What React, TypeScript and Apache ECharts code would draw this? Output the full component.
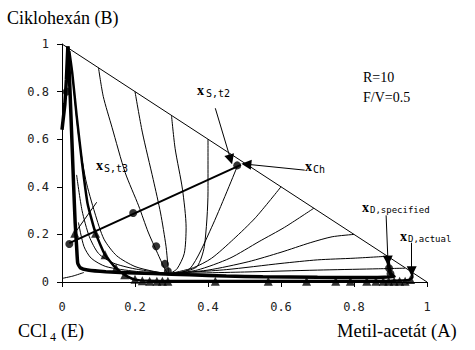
import React, { useEffect, useRef } from "react";
import * as echarts from "echarts";

// axis ticks
const xTickLabels = ["0", "0.2", "0.4", "0.6", "0.8", "1"];
const yTickLabels = ["0", "0.2", "0.4", "0.6", "0.8", "1"];

// triangle side (A-B edge)
const hypotenuse = [[0, 1], [1, 0]];

// thin residue curves from the A-B edge down to the saddle
const curveB1 = [[0.10, 0.90], [0.113, 0.78], [0.137, 0.65], [0.173, 0.46], [0.21, 0.32], [0.236, 0.21], [0.262, 0.12], [0.28, 0.06], [0.29, 0.035]];
const curveB2 = [[0.20, 0.80], [0.22, 0.63], [0.25, 0.43], [0.27, 0.29], [0.285, 0.15], [0.29, 0.07], [0.292, 0.035]];
const curveB3 = [[0.30, 0.70], [0.31, 0.56], [0.33, 0.39], [0.34, 0.23], [0.335, 0.12], [0.315, 0.055], [0.295, 0.035]];
const curveB4 = [[0.40, 0.60], [0.40, 0.38], [0.39, 0.15], [0.37, 0.065], [0.33, 0.042], [0.295, 0.035]];

// thin curves radiating from the saddle to the A-B edge
const curveR1 = [[0.295, 0.035], [0.35, 0.055], [0.41, 0.23], [0.48, 0.485]];
const curveR2 = [[0.295, 0.035], [0.36, 0.06], [0.41, 0.10], [0.47, 0.18], [0.53, 0.27], [0.60, 0.40]];
const curveR3 = [[0.295, 0.035], [0.37, 0.05], [0.46, 0.10], [0.54, 0.17], [0.61, 0.23], [0.69, 0.31]];
const curveR4 = [[0.295, 0.035], [0.40, 0.05], [0.51, 0.085], [0.60, 0.125], [0.68, 0.165], [0.74, 0.19], [0.80, 0.20]];
const curveR5 = [[0.295, 0.035], [0.45, 0.052], [0.60, 0.078], [0.70, 0.093], [0.80, 0.10], [0.89, 0.108]];
const curveR6 = [[0.295, 0.035], [0.50, 0.042], [0.70, 0.05], [0.85, 0.055], [0.94, 0.058]];

// thin curves near the B-E edge
const curveL1 = [[0.03, 0.85], [0.045, 0.62], [0.065, 0.43], [0.09, 0.29], [0.115, 0.18], [0.15, 0.11], [0.2, 0.065], [0.25, 0.045], [0.29, 0.035]];
const curveL2 = [[0.04, 0.45], [0.055, 0.30], [0.075, 0.19], [0.10, 0.12], [0.14, 0.08], [0.2, 0.055], [0.29, 0.035]];
const curveL3 = [[0.045, 0.25], [0.06, 0.15], [0.08, 0.10], [0.12, 0.065], [0.2, 0.045], [0.29, 0.035]];
const curveL4 = [[0.0, 0.015], [0.03, 0.025], [0.06, 0.04]];

// column profiles (thick)
const profileSpecified = [[0.893, 0.095], [0.896, 0.058], [0.9, 0.035], [0.91, 0.022], [0.85, 0.019], [0.7, 0.02], [0.55, 0.022], [0.45, 0.025], [0.35, 0.03], [0.3, 0.033], [0.2, 0.038], [0.12, 0.043], [0.07, 0.05], [0.05, 0.06], [0.043, 0.08], [0.04, 0.15], [0.036, 0.25], [0.032, 0.4], [0.027, 0.6], [0.022, 0.8], [0.018, 0.95], [0.016, 0.99]];
const profileTopBranch = [[0.016, 0.99], [0.012, 0.85], [0.008, 0.75], [0.003, 0.68], [0.0, 0.64]];
const profileActual = [[0.958, 0.05], [0.96, 0.02], [0.95, 0.008], [0.9, 0.005], [0.8, 0.004], [0.6, 0.004], [0.4, 0.004], [0.3, 0.004], [0.24, 0.005], [0.2, 0.01], [0.172, 0.03], [0.148, 0.058], [0.118, 0.114], [0.092, 0.205], [0.07, 0.33], [0.055, 0.5], [0.04, 0.7], [0.028, 0.88], [0.02, 0.97]];
const extractiveLine = [[0.02, 0.163], [0.49, 0.492]];

// markers
const circleMarkers = [[0.02, 0.16], [0.195, 0.29], [0.258, 0.15], [0.282, 0.076], [0.29, 0.045], [0.013, 0.80], [0.48, 0.49], [0.896, 0.058], [0.9, 0.035]];
const triangleMarkers = [[0.092, 0.205], [0.118, 0.114], [0.148, 0.058], [0.172, 0.03], [0.2, 0.012], [0.22, 0.005], [0.24, 0.003], [0.26, 0.003], [0.275, 0.003], [0.29, 0.003], [0.42, 0.003], [0.565, 0.003], [0.67, 0.003], [0.75, 0.003], [0.79, 0.003], [0.835, 0.003], [0.86, 0.003], [0.88, 0.003], [0.895, 0.003], [0.91, 0.003], [0.925, 0.003], [0.94, 0.003], [0.955, 0.01], [0.035, 0.205]];

// annotation pointers
const pointerSt2 = [[0.42, 0.73], [0.462, 0.515]];
const pointerCh = [[0.665, 0.47], [0.505, 0.495]];
const pointerDspec = [[0.888, 0.28], [0.893, 0.09]];
const pointerDact = [[0.958, 0.165], [0.958, 0.045]];
const pointerSt3 = [[0.095, 0.335], [0.035, 0.205]];

const thinCurves = [curveB1, curveB2, curveB3, curveB4, curveR1, curveR2, curveR3, curveR4, curveR5, curveR6, curveL1, curveL2, curveL3, curveL4];

const serif = "Liberation Serif";

function thinLine(data: number[][], width = 1, smooth: number | boolean = 0.25) {
  return {
    type: "line",
    data,
    symbol: "none",
    smooth,
    lineStyle: { color: "#000", width },
    z: 2,
    silent: true,
  };
}

function label(x: number, y: number, text: string, size: number, font = serif, weight = "normal") {
  return {
    type: "text",
    x,
    y,
    style: { text, fontFamily: font, fontSize: size, fontWeight: weight, fill: "#000", textVerticalAlign: "middle", verticalAlign: "middle" },
  };
}

export default function App() {
  const ref = useRef<HTMLDivElement>(null);
  useEffect(() => {
    const chart = echarts.init(ref.current!, null, { renderer: "svg" });
    const axisCommon = {
      type: "value",
      min: 0,
      max: 1,
      interval: 0.2,
      splitLine: { show: false },
      axisLine: { show: true, onZero: false, lineStyle: { color: "#000", width: 1 } },
      axisTick: { show: true, length: 5, lineStyle: { color: "#000" } },
    };
    const option = {
      animation: false,
      backgroundColor: "#fff",
      grid: { left: 62, right: 48, top: 44, bottom: 68 },
      xAxis: {
        ...axisCommon,
        axisLabel: {
          fontFamily: "DejaVu Sans Mono",
          fontSize: 12,
          color: "#222",
          margin: 19,
          formatter: (v: number) => xTickLabels[Math.round(v / 0.2)],
        },
      },
      yAxis: {
        ...axisCommon,
        axisLabel: {
          fontFamily: "DejaVu Sans Mono",
          fontSize: 12,
          color: "#222",
          margin: 13,
          formatter: (v: number) => yTickLabels[Math.round(v / 0.2)],
        },
      },
      series: [
        thinLine(hypotenuse, 1, false),
        ...thinCurves.map((c) => thinLine(c)),
        thinLine(extractiveLine, 2, false),
        { ...thinLine(profileSpecified, 3.5, 0.15), z: 4 },
        { ...thinLine(profileTopBranch, 3.5, 0.15), z: 4 },
        { ...thinLine(profileActual, 2.5, 0.15), z: 4 },
        {
          type: "lines",
          coordinateSystem: "cartesian2d",
          data: [pointerSt2, pointerCh, pointerDspec, pointerDact].map((c) => ({ coords: c })),
          symbol: ["none", "triangle"],
          symbolSize: 10,
          lineStyle: { color: "#000", width: 1, opacity: 1 },
          z: 5,
        },
        {
          type: "lines",
          coordinateSystem: "cartesian2d",
          data: [pointerSt3].map((c) => ({ coords: c })),
          symbol: ["none", "none"],
          lineStyle: { color: "#000", width: 1, opacity: 1 },
          z: 5,
        },
        {
          type: "scatter",
          data: circleMarkers,
          symbol: "circle",
          symbolSize: 8,
          itemStyle: { color: "#000" },
          clip: false,
          z: 6,
        },
        {
          type: "scatter",
          data: triangleMarkers,
          symbol: "triangle",
          symbolSize: 9,
          itemStyle: { color: "#000" },
          clip: false,
          z: 6,
        },
      ],
      graphic: [
        label(7, 18, "Ciklohexán (B)", 18),
        label(337, 331, "Metil-acetát (A)", 18.5),
        label(18, 331, "CCl", 18),
        label(50, 337, "4", 12),
        label(61, 331, "(E)", 18),
        label(363, 77, "R=10", 14),
        label(363, 97, "F/V=0.5", 14),
        label(197, 90, "x", 14, serif, "bold"),
        label(206, 93, "S,t2", 10, "DejaVu Sans Mono"),
        label(305, 166, "x", 14, serif, "bold"),
        label(313, 169, "Ch", 10, "DejaVu Sans Mono"),
        label(96, 165, "x", 14, serif, "bold"),
        label(104, 168, "S,t3", 10, "DejaVu Sans Mono"),
        label(362, 207, "x", 14, serif, "bold"),
        label(370, 210, "D,specified", 9, "DejaVu Sans Mono"),
        label(400, 236, "x", 14, serif, "bold"),
        label(408, 239, "D,actual", 9, "DejaVu Sans Mono"),
      ],
    };
    chart.setOption(option as any);
    return () => chart.dispose();
  }, []);
  return <div ref={ref} style={{ position: "absolute", left: 0, top: 0, width: 475, height: 350 }} />;
}
